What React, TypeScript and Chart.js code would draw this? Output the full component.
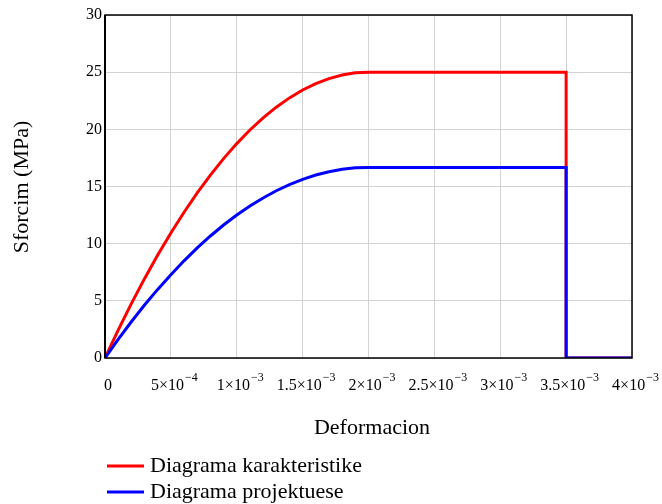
import React, { useEffect, useRef } from "react";
import { Chart, registerables } from "chart.js";

Chart.register(...registerables);

const strainValues = [
  0, 0.0001, 0.0002, 0.0003, 0.0004, 0.0005, 0.0006, 0.0007, 0.0008, 0.0009, 0.001,
  0.0011, 0.0012, 0.0013, 0.0014, 0.0015, 0.0016, 0.0017, 0.0018, 0.0019, 0.002,
  0.0035, 0.0035, 0.004,
];
const characteristicStress = [
  0, 2.44, 4.75, 6.94, 9.0, 10.94, 12.75, 14.44, 16.0, 17.44, 18.75,
  19.94, 21.0, 21.94, 22.75, 23.44, 24.0, 24.44, 24.75, 24.94, 25.0,
  25.0, 0, 0,
];
const designStress = [
  0, 1.63, 3.17, 4.63, 6.0, 7.29, 8.5, 9.63, 10.67, 11.63, 12.5,
  13.29, 14.0, 14.63, 15.17, 15.63, 16.0, 16.29, 16.5, 16.63, 16.67,
  16.67, 0, 0,
];
const seriesLabels = ["Diagrama karakteristike", "Diagrama projektuese"];
const seriesColors = ["#ff0000", "#0000ff"];
const xTickBase = ["0", "5×10", "1×10", "1.5×10", "2×10", "2.5×10", "3×10", "3.5×10", "4×10"];
const xTickExp = ["", "−4", "−3", "−3", "−3", "−3", "−3", "−3", "−3"];
const xTitle = "Deformacion";
const yTitle = "Sforcim (MPa)";

const FONT = "'Liberation Serif', 'Times New Roman', serif";

export default function App() {
  const ref = useRef<HTMLCanvasElement | null>(null);

  useEffect(() => {
    const canvas = ref.current;
    if (!canvas) return;

    const overlay = {
      id: "overlay",
      afterDraw(chart: any) {
        const ctx = chart.ctx;
        const area = chart.chartArea;
        const xs = chart.scales.x;
        ctx.save();
        // frame
        ctx.strokeStyle = "#000";
        ctx.lineWidth = 1.5;
        ctx.strokeRect(area.left, area.top, area.right - area.left, area.bottom - area.top);
        ctx.lineWidth = 2;
        ctx.beginPath();
        ctx.moveTo(area.left, area.top);
        ctx.lineTo(area.left, area.bottom);
        ctx.stroke();

        // x tick labels with superscripts
        ctx.fillStyle = "#000";
        ctx.textBaseline = "alphabetic";
        ctx.textAlign = "left";
        const ticks = xs.ticks;
        for (let i = 0; i < ticks.length && i < xTickBase.length; i++) {
          const px = xs.getPixelForValue(ticks[i].value);
          ctx.font = `16px ${FONT}`;
          const wb = ctx.measureText(xTickBase[i]).width;
          ctx.font = `12px ${FONT}`;
          const we = xTickExp[i] ? ctx.measureText(xTickExp[i]).width : 0;
          const total = wb + we;
          const start = px + 3 - total / 2;
          ctx.font = `16px ${FONT}`;
          ctx.fillText(xTickBase[i], start, 390);
          if (xTickExp[i]) {
            ctx.font = `12px ${FONT}`;
            ctx.fillText(xTickExp[i], start + wb + 1, 381);
          }
        }

        // axis titles
        ctx.font = `22px ${FONT}`;
        ctx.textAlign = "center";
        ctx.textBaseline = "middle";
        ctx.fillText(xTitle, 372, 428);
        ctx.save();
        ctx.translate(22, 187);
        ctx.rotate(-Math.PI / 2);
        ctx.fillText(yTitle, 0, 0);
        ctx.restore();

        // legend
        ctx.textAlign = "left";
        for (let i = 0; i < seriesLabels.length; i++) {
          const y = 466 + i * 26;
          ctx.strokeStyle = seriesColors[i];
          ctx.lineWidth = 3;
          ctx.beginPath();
          ctx.moveTo(107, y);
          ctx.lineTo(144, y);
          ctx.stroke();
          ctx.fillStyle = "#000";
          ctx.fillText(seriesLabels[i], 150, y);
        }
        ctx.restore();
      },
    };

    const chart = new Chart(canvas, {
      type: "line",
      data: {
        datasets: [
          {
            label: seriesLabels[0],
            data: strainValues.map((x, i) => ({ x, y: characteristicStress[i] })),
            borderColor: seriesColors[0],
            borderWidth: 3,
            pointRadius: 0,
            fill: false,
            tension: 0,
            order: 1,
          },
          {
            label: seriesLabels[1],
            data: strainValues.map((x, i) => ({ x, y: designStress[i] })),
            borderColor: seriesColors[1],
            borderWidth: 3,
            pointRadius: 0,
            fill: false,
            tension: 0,
            order: 0,
          },
        ],
      },
      options: {
        responsive: false,
        animation: false,
        layout: { padding: { top: 15, right: 30, left: 0, bottom: 0 } },
        plugins: { legend: { display: false }, tooltip: { enabled: false } },
        scales: {
          x: {
            type: "linear",
            min: 0,
            max: 0.004,
            ticks: { stepSize: 0.0005, callback: () => "", maxRotation: 0 },
            grid: { color: "#d3d3d3", lineWidth: 1, drawTicks: false },
            border: { display: false },
            afterFit: (s: any) => {
              s.height = 146;
            },
          },
          y: {
            min: 0,
            max: 30,
            ticks: {
              stepSize: 5,
              color: "#000",
              font: { family: FONT, size: 16 },
              padding: 3,
            },
            grid: { color: "#d3d3d3", lineWidth: 1, drawTicks: false },
            border: { display: false },
            afterFit: (s: any) => {
              s.width = 105;
            },
          },
        },
      },
      plugins: [overlay],
    } as any);

    return () => chart.destroy();
  }, []);

  return (
    <div style={{ position: "absolute", left: 0, top: 0, width: 662, height: 504, background: "#fff" }}>
      <canvas ref={ref} width={662} height={504} />
    </div>
  );
}
